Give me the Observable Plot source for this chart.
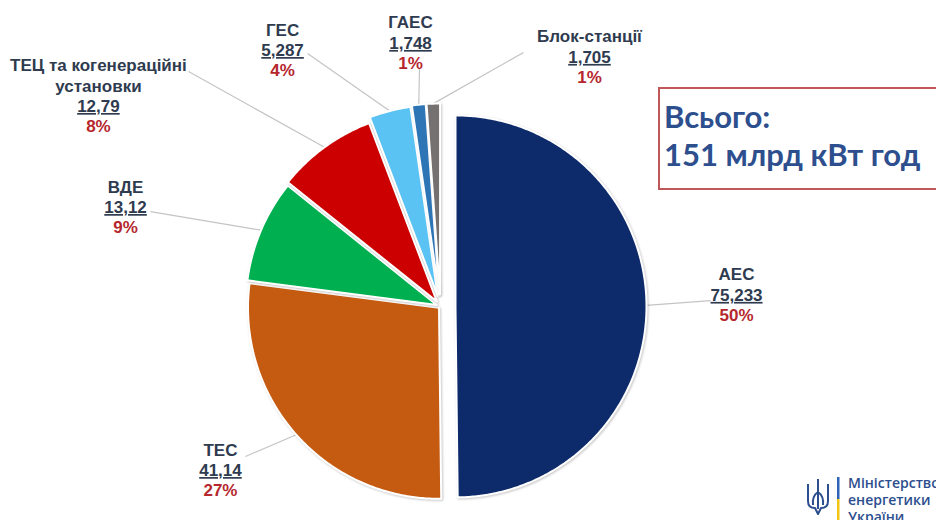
<!DOCTYPE html>
<html>
<head>
<meta charset="utf-8">
<script src="https://cdn.jsdelivr.net/npm/d3@7"></script>
<script src="https://cdn.jsdelivr.net/npm/@observablehq/plot@0.6"></script>
<style>
  html, body { margin: 0; padding: 0; background: #fff; }
  #wrap { position: relative; width: 936px; height: 520px; overflow: hidden; background: #fff; }
  #wrap > svg.overlay { position: absolute; left: 0; top: 0; }
  text.uline { text-decoration: underline; text-decoration-thickness: 2px; text-underline-offset: 3px; }
  #wrap g[aria-label="line"] { filter: drop-shadow(1px 1px 1.2px rgba(0,0,0,0.22)); }
</style>
</head>
<body>
<div id="wrap"></div>
<script>
// ---------- data ----------
const categories = ["АЕС", "ТЕС", "ВДЕ", "ТЕЦ та когенераційні\nустановки", "ГЕС", "ГАЕС", "Блок-станції"];
const values = [75.233, 41.14, 13.12, 12.79, 5.287, 1.748, 1.705];
const valueLabels = ["75,233", "41,14", "13,12", "12,79", "5,287", "1,748", "1,705"];
const percentLabels = ["50%", "27%", "9%", "8%", "4%", "1%", "1%"];
const totalLines = ["Всього:", "151 млрд кВт год"];
const ministryLines = ["Міністерство", "енергетики", "України"];

// ---------- styles / layout ----------
const colors = ["#0d2a6b", "#c55a11", "#00b050", "#cc0000", "#5bc3f3", "#2e75b6", "#767171"];
const explodePx = [15, 2, 4, 6, 11, 12, 12];           // slice explosion, px
// label anchor (centre of value line) in pie-radius units
const labelX = [1.55, -1.152, -1.649, -1.791, -0.827, -0.157, 0.780];
const labelY = [0.058, -0.859, 0.518, 1.047, 1.340, 1.377, 1.304];
// leader line start (near label), in pie-radius units
const leaderX = [1.414, -1.021, -1.518, -1.319, -0.696, -0.110, 0.435];
const leaderY = [0.031, -0.785, 0.497, 1.230, 1.325, 1.246, 1.330];

const W = 936, H = 520, R = 191, CX = 440, CY = 306;

const rows = categories.map((name, i) => ({name, value: values[i], color: colors[i], i}));
const arcs = d3.pie().sort(null).value(d => d.value)(rows);

const sliceMarks = [];
const leaders = [];
arcs.forEach(p => {
  const d = p.data, off = explodePx[d.i] / R;
  const mid = (p.startAngle + p.endAngle) / 2;
  const ox = off * Math.sin(mid), oy = off * Math.cos(mid);
  const n = Math.max(6, Math.ceil((p.endAngle - p.startAngle) / 0.01));
  const pts = [{x: ox, y: oy}];
  for (let k = 0; k <= n; k++) {
    const a = p.startAngle + (p.endAngle - p.startAngle) * k / n;
    pts.push({x: ox + Math.sin(a), y: oy + Math.cos(a)});
  }
  pts.push({x: ox, y: oy});
  sliceMarks.push(Plot.line(pts, {x: "x", y: "y", fill: d.color, stroke: "white", strokeWidth: 2,
    strokeLinejoin: "round"}));
  leaders.push({x1: leaderX[d.i], y1: leaderY[d.i], x2: ox + Math.sin(mid), y2: oy + Math.cos(mid)});
});

const labels = rows.map(d => ({
  name: d.name, value: valueLabels[d.i], pct: percentLabels[d.i], x: labelX[d.i], y: labelY[d.i]
}));

const font = "'Liberation Sans', Arial, sans-serif";
const plot = Plot.plot({
  width: W, height: H, margin: 0,
  x: {domain: [-CX / R, (W - CX) / R], axis: null},
  y: {domain: [-(H - CY) / R, CY / R], axis: null},
  style: {fontFamily: font, background: "transparent"},
  marks: [
    Plot.link(leaders, {x1: "x1", y1: "y1", x2: "x2", y2: "y2", stroke: "#c4c4c4", strokeWidth: 1.2}),
    ...sliceMarks,
    Plot.text(labels, {x: "x", y: "y", text: "name", lineAnchor: "bottom", dy: -15, lineHeight: 1.2,
      fontSize: 17, fontWeight: "bold", fill: "#2f3b4f"}),
    Plot.text(labels, {x: "x", y: "y", text: "value", lineAnchor: "middle",
      fontSize: 17, fontWeight: "bold", fill: "#2f3b4f"}),
    Plot.text(labels, {x: "x", y: "y", text: "pct", lineAnchor: "middle", dy: 20,
      fontSize: 17, fontWeight: "bold", fill: "#b5272d"})
  ]
});

const wrap = document.getElementById("wrap");
wrap.appendChild(plot);
// underline the value labels (text style)
const valueSet = new Set(valueLabels);
plot.querySelectorAll("text").forEach(t => { if (valueSet.has(t.textContent)) t.classList.add("uline"); });

// ---------- total box + ministry logo overlay ----------
const ov = d3.select(wrap).append("svg").attr("class", "overlay").attr("width", W).attr("height", H);
ov.append("rect").attr("x", 659).attr("y", 88).attr("width", 300).attr("height", 101)
  .attr("fill", "white").attr("stroke", "#c0585a").attr("stroke-width", 2);
ov.selectAll("text.total").data(totalLines).join("text").attr("class", "total")
  .attr("x", 664).attr("y", (d, i) => 128 + i * 38)
  .attr("font-family", "Lato, 'Open Sans', sans-serif").attr("font-weight", "bold")
  .attr("font-size", 31).attr("fill", "#2d4f8e").text(d => d);

// trident (simplified)
const g = ov.append("g").attr("transform", "translate(806,479)").attr("fill", "none")
  .attr("stroke", "#2c4e8e").attr("stroke-width", 2).attr("stroke-linejoin", "round");
g.append("path").attr("d", "M12,0 L12,30");
g.append("path").attr("d", "M2,5 L2,22 Q2,29 9,29 L12,35 L15,29 Q22,29 22,22 L22,5");
g.append("path").attr("d", "M12,13 Q6,17 7,26 M12,13 Q18,17 17,26");
ov.append("rect").attr("x", 837).attr("y", 477).attr("width", 2.5).attr("height", 22).attr("fill", "#2c62b8");
ov.append("rect").attr("x", 837).attr("y", 499).attr("width", 2.5).attr("height", 21).attr("fill", "#f2c511");
ov.selectAll("text.min").data(ministryLines).join("text").attr("class", "min")
  .attr("x", 848).attr("y", (d, i) => 488 + i * 17)
  .attr("font-family", "'Open Sans', sans-serif").attr("font-weight", 600)
  .attr("font-size", 14).attr("fill", "#2c4e8e").text(d => d);
</script>
</body>
</html>
